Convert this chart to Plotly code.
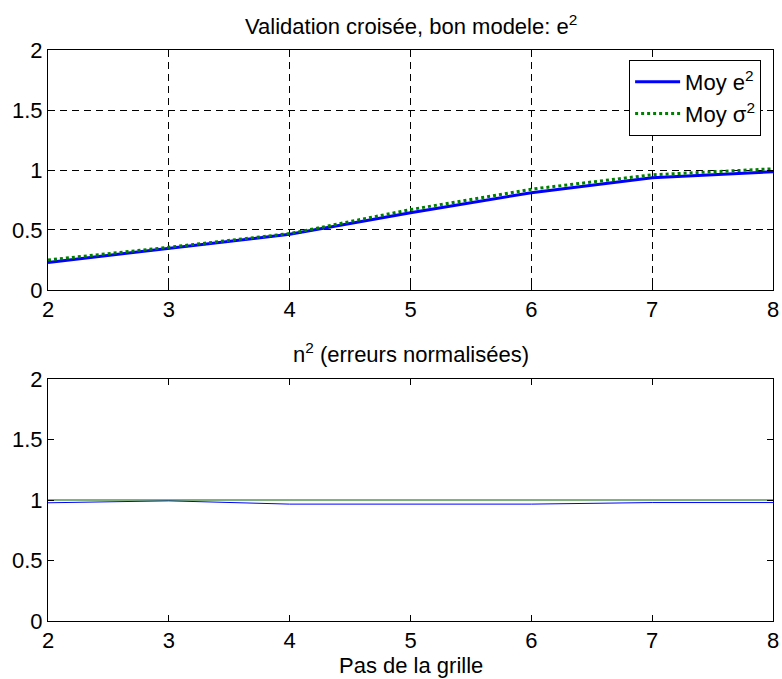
import plotly.graph_objects as go

pas = [2, 3, 4, 5, 6, 7, 8]
moy_e2 = [0.23, 0.347, 0.464, 0.644, 0.811, 0.936, 0.986]
moy_sigma2 = [0.25, 0.356, 0.47, 0.67, 0.84, 0.96, 1.01]
n2 = [0.977, 0.993, 0.966, 0.966, 0.966, 0.979, 0.979]
ref_un = [1, 1, 1, 1, 1, 1, 1]

y_ticks = [0, 0.5, 1, 1.5, 2]
y_ticktext = ["0", "0.5", "1", "1.5", "2"]
x_ticks = [2, 3, 4, 5, 6, 7, 8]

FONT = "Liberation Sans, Arial, sans-serif"
FS = 22

fig = go.Figure()
fig.add_trace(go.Scatter(x=pas, y=moy_e2, mode="lines", name="Moy e<sup>2</sup>",
                         line=dict(color="#0000ff", width=3), xaxis="x", yaxis="y"))
fig.add_trace(go.Scatter(x=pas, y=moy_sigma2, mode="lines", name="Moy σ<sup>2</sup>",
                         line=dict(color="#008000", width=3, dash="dot"), xaxis="x", yaxis="y"))
fig.add_trace(go.Scatter(x=pas, y=n2, mode="lines", showlegend=False,
                         line=dict(color="#0000ff", width=1), xaxis="x2", yaxis="y2"))
fig.add_trace(go.Scatter(x=pas, y=ref_un, mode="lines", showlegend=False,
                         line=dict(color="#006400", width=1), xaxis="x2", yaxis="y2"))

axis_common = dict(showline=True, linecolor="black", linewidth=1, mirror="ticks",
                   ticks="inside", ticklen=6, tickcolor="black", zeroline=False,
                   ticklabeloverflow="allow",
                   tickfont=dict(family=FONT, size=FS, color="black"))
grid = dict(showgrid=True, gridcolor="black", griddash="7px,5px", gridwidth=1)

fig.update_layout(
    width=782, height=679,
    margin=dict(l=48, r=3, t=50, b=58),
    paper_bgcolor="white", plot_bgcolor="white",
    font=dict(family=FONT, size=FS, color="black"),
    xaxis=dict(domain=[0, 1], range=[2, 8], tickvals=x_ticks, anchor="y", **grid, **axis_common),
    yaxis=dict(domain=[0.5797, 1], range=[0, 2], tickvals=y_ticks, ticktext=y_ticktext,
               anchor="x", **grid, **axis_common),
    xaxis2=dict(domain=[0, 1], range=[2, 8], tickvals=x_ticks, anchor="y2", showgrid=False,
                **axis_common),
    yaxis2=dict(domain=[0, 0.4238], range=[0, 2], tickvals=y_ticks, ticktext=y_ticktext,
                anchor="x2", showgrid=False, **axis_common),
    legend=dict(x=0.9836, y=0.9825, xanchor="right", yanchor="top", bgcolor="white",
                bordercolor="black", borderwidth=1, font=dict(family=FONT, size=FS),
                tracegroupgap=0, itemwidth=45),
    annotations=[
        dict(text="Validation croisée, bon modele: e<sup>2</sup>", xref="paper", yref="paper",
             x=0.5, y=1.0, yshift=25, xanchor="center", yanchor="middle", showarrow=False,
             font=dict(family=FONT, size=FS)),
        dict(text="n<sup>2</sup> (erreurs normalisées)", xref="paper", yref="paper",
             x=0.5, y=0.4238, yshift=26, xanchor="center", yanchor="middle", showarrow=False,
             font=dict(family=FONT, size=FS)),
        dict(text="Pas de la grille", xref="paper", yref="paper",
             x=0.5, y=0, yshift=-44, xanchor="center", yanchor="middle", showarrow=False,
             font=dict(family=FONT, size=FS)),
    ],
    showlegend=True,
)

fig.write_html("out.html")
